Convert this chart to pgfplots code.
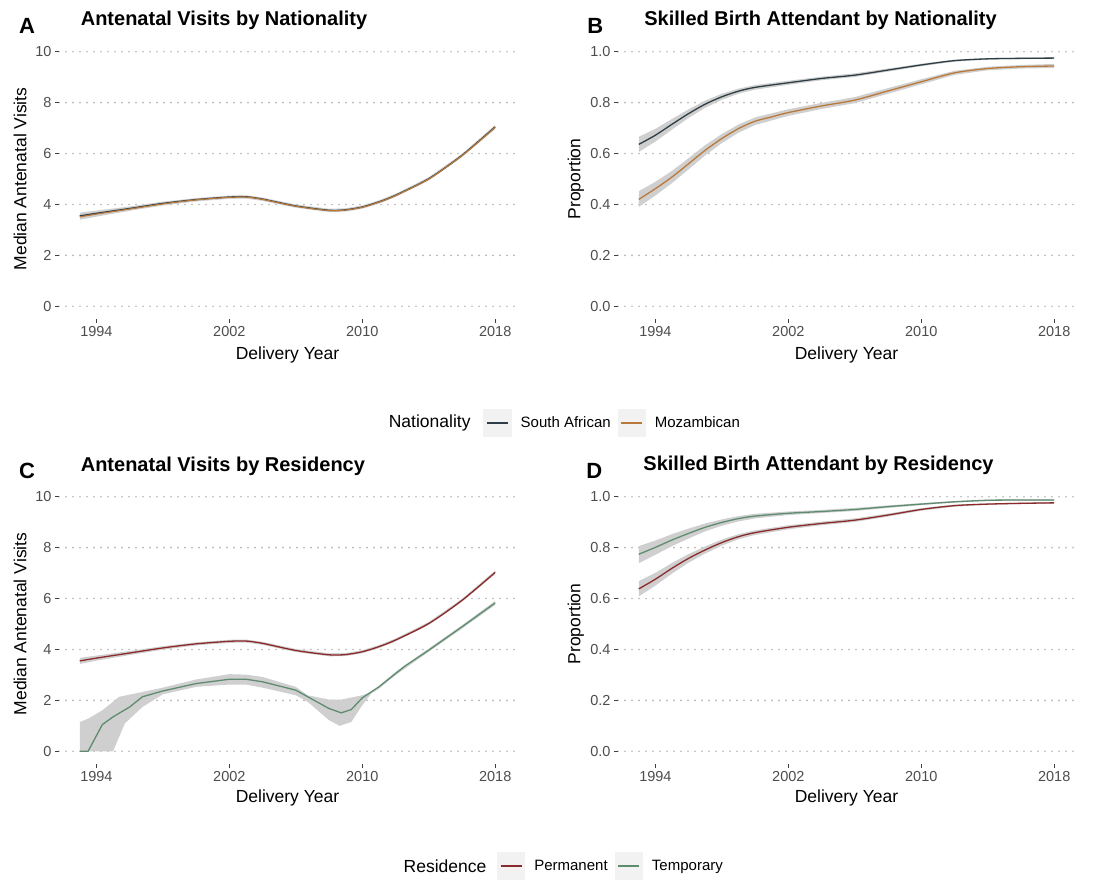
\documentclass[border=0pt]{standalone}
\usepackage{fontspec}
\setmainfont{Liberation Sans}
\usepackage{pgfplots}
\pgfplotsset{compat=1.18}
\usepackage{pgfplotstable}

\definecolor{saCol}{HTML}{2F3E46}
\definecolor{mzCol}{HTML}{B9793A}
\definecolor{pmCol}{HTML}{8B2A2A}
\definecolor{tpCol}{HTML}{5E8C6F}
\definecolor{bandgray}{HTML}{CFCFCF}
\definecolor{tickgray}{HTML}{4D4D4D}
\definecolor{gridgray}{HTML}{B4B4B4}
\definecolor{legbg}{HTML}{F2F2F2}

% Panel A: antenatal visits by nationality
\pgfplotstableread{
year y
1993 3.55
1994 3.65
1996 3.84
1998 4.04
2000 4.19
2002 4.29
2003 4.30
2004 4.21
2006 3.94
2008 3.77
2009 3.79
2010 3.90
2011 4.10
2012 4.36
2014 5.01
2016 5.93
2018 7.05
}\visSA
\pgfplotstableread{
year y
1993 3.51
1994 3.62
1996 3.82
1998 4.02
2000 4.18
2002 4.28
2003 4.29
2004 4.20
2006 3.93
2008 3.76
2009 3.78
2010 3.89
2011 4.09
2012 4.35
2014 5.00
2016 5.92
2018 7.03
}\visMZ
% Panel B: skilled birth attendant by nationality
\pgfplotstableread{
year y
1993 0.636
1994 0.672
1995 0.715
1996 0.757
1997 0.794
1998 0.823
1999 0.845
2000 0.860
2002 0.878
2004 0.895
2006 0.908
2008 0.928
2010 0.948
2012 0.965
2014 0.972
2016 0.974
2018 0.975
}\sbaSA
\pgfplotstableread{
year y
1993 0.420
1994 0.462
1995 0.508
1996 0.560
1997 0.613
1998 0.659
1999 0.698
2000 0.727
2001 0.744
2002 0.761
2004 0.787
2006 0.810
2008 0.846
2010 0.882
2012 0.917
2014 0.934
2016 0.941
2018 0.944
}\sbaMZ
% Panel C: antenatal visits by residency
\pgfplotstableread{
year y
1993 3.55
1994 3.66
1996 3.86
1998 4.06
2000 4.22
2002 4.32
2003 4.33
2004 4.24
2006 3.96
2008 3.79
2009 3.80
2010 3.91
2011 4.11
2012 4.37
2014 5.02
2016 5.93
2018 7.03
}\visPM
\pgfplotstableread{
year y
1993.00 0.00
1993.50 0.00
1994.36 1.05
1995.00 1.35
1996.00 1.74
1996.77 2.14
1998.00 2.37
2000.00 2.66
2002.00 2.83
2003.00 2.83
2004.00 2.73
2006.00 2.40
2006.72 2.14
2008.00 1.68
2008.73 1.51
2009.34 1.64
2010.00 2.10
2011.00 2.53
2012.00 3.05
2012.55 3.34
2014.00 3.97
2016.00 4.89
2018.00 5.83
}\visTP
% Panel D: skilled birth attendant by residency
\pgfplotstableread{
year y
1993 0.774
1994 0.801
1995 0.830
1996 0.856
1997 0.880
1998 0.899
1999 0.914
2000 0.924
2002 0.935
2004 0.942
2006 0.950
2008 0.961
2010 0.971
2012 0.980
2014 0.986
2016 0.987
2018 0.987
}\sbaTP
\pgfplotstableread{
year y
1993 0.638
1994 0.676
1995 0.719
1996 0.758
1997 0.791
1998 0.820
1999 0.843
2000 0.859
2002 0.880
2004 0.895
2006 0.908
2008 0.928
2010 0.950
2012 0.965
2014 0.971
2016 0.974
2018 0.976
}\sbaPM

\tikzset{letter/.style={anchor=base west, font=\fontsize{22}{26}\selectfont\bfseries},
  legtitle/.style={anchor=west, font=\fontsize{17.5}{21}\selectfont}}
\pgfplotsset{
  gg/.style={
    scale only axis, width=457pt, height=280pt,
    xmin=1991.75, xmax=2019.25,
    xtick={1994,2002,2010,2018},
    axis lines*=left, axis line style={draw=none},
    tick align=outside, major tick length=4pt,
    tick style={color=black!75, line width=0.9pt},
    ymajorgrids,
    grid style={gridgray, line width=1.8pt, line cap=round, dash pattern=on 0pt off 7pt},
    ticklabel style={font=\fontsize{14.5}{16}\selectfont, color=tickgray},
    /pgf/number format/assume math mode=true,
    /pgf/number format/1000 sep={},
    label style={font=\fontsize{17.5}{21}\selectfont},
    title style={font=\fontsize{20}{24}\selectfont\bfseries, anchor=base west},
    clip mode=individual,
    legend columns=-1,
    legend style={draw=none, fill=none, inner sep=0pt, anchor=west,
      font=\fontsize{15}{17}\selectfont, nodes={inner sep=0pt},
      /tikz/every odd column/.append style={column sep=9pt},
      /tikz/every even column/.append style={column sep=7pt}},
    legend image code/.code={
      \fill[legbg] (0pt,-13.5pt) rectangle (27pt,13.5pt);
      \draw[#1, line width=1.3pt] (3pt,0pt) -- (24pt,0pt);
    },
  },
  visits/.style={ymin=-0.5, ymax=10.5, ytick={0,2,4,6,8,10},
    ylabel={Median Antenatal Visits},
    ylabel style={at={(axis description cs:-0.0853,0.5)}, anchor=center}},
  prop/.style={ymin=-0.05, ymax=1.05, ytick={0,0.2,0.4,0.6,0.8,1.0},
    yticklabel style={/pgf/number format/.cd, fixed, fixed zerofill, precision=1},
    ylabel={Proportion},
    ylabel style={at={(axis description cs:-0.092,0.5)}, anchor=center}},
}

\begin{document}
\begin{tikzpicture}
\useasboundingbox (0,0) rectangle (1105pt,879pt);

% ---------- A ----------
\begin{axis}[gg, visits, at={(59pt,560pt)}, anchor=south west,
  title={Antenatal Visits by Nationality},
  title style={at={(axis description cs:0.040,1.028)}},
  xlabel={Delivery Year},
  xlabel style={at={(axis description cs:0.5,-0.13)}, anchor=center},
  legend style={at={(axis description cs:0.928,-0.371)}}]
\addplot[fill=bandgray, draw=none, forget plot] coordinates {
(1993,3.68)(1994,3.76)(1996,3.92)(1998,4.11)(2000,4.25)(2002,4.35)(2003,4.36)(2004,4.27)(2006,4.00)(2008,3.83)(2009,3.85)(2010,3.96)(2011,4.16)(2012,4.42)(2014,5.07)(2016,5.99)(2018,7.12)
(2018,6.96)(2016,5.86)(2014,4.94)(2012,4.29)(2011,4.03)(2010,3.83)(2009,3.72)(2008,3.70)(2006,3.87)(2004,4.14)(2003,4.23)(2002,4.22)(2000,4.12)(1998,3.96)(1996,3.75)(1994,3.52)(1993,3.40)};
\addplot[saCol, line width=1.4pt, smooth, tension=0.5] table[x=year,y=y] {\visSA};
\addlegendentry{South African}
\addplot[mzCol, line width=1.1pt, smooth, tension=0.5] table[x=year,y=y] {\visMZ};
\addlegendentry{Mozambican}
\node[letter] at (axis description cs:-0.095,1.018) {A};
\node[legtitle] at (axis description cs:0.714,-0.371) {Nationality};
\end{axis}

% ---------- B ----------
\begin{axis}[gg, prop, at={(618pt,560pt)}, anchor=south west,
  title={Skilled Birth Attendant by Nationality},
  title style={at={(axis description cs:0.050,1.028)}},
  xlabel={Delivery Year},
  xlabel style={at={(axis description cs:0.5,-0.13)}, anchor=center}]
\addplot[fill=bandgray, draw=none, forget plot] coordinates {
(1993,0.666)(1994,0.697)(1995,0.736)(1996,0.774)(1997,0.808)(1998,0.835)(1999,0.855)(2000,0.869)(2002,0.886)(2004,0.902)(2006,0.915)(2008,0.934)(2010,0.953)(2012,0.969)(2014,0.975)(2016,0.977)(2018,0.978)
(2018,0.972)(2016,0.971)(2014,0.969)(2012,0.961)(2010,0.943)(2008,0.922)(2006,0.901)(2004,0.888)(2002,0.870)(2000,0.851)(1999,0.835)(1998,0.811)(1997,0.780)(1996,0.740)(1995,0.694)(1994,0.647)(1993,0.606)};
\addplot[fill=bandgray, draw=none, forget plot] coordinates {
(1993,0.452)(1994,0.489)(1995,0.532)(1996,0.582)(1997,0.633)(1998,0.677)(1999,0.714)(2000,0.742)(2001,0.758)(2002,0.774)(2004,0.799)(2006,0.822)(2008,0.857)(2010,0.892)(2012,0.925)(2014,0.941)(2016,0.948)(2018,0.952)
(2018,0.936)(2016,0.934)(2014,0.927)(2012,0.909)(2010,0.872)(2008,0.835)(2006,0.798)(2004,0.775)(2002,0.748)(2001,0.730)(2000,0.712)(1999,0.682)(1998,0.641)(1997,0.593)(1996,0.538)(1995,0.484)(1994,0.435)(1993,0.390)};
\addplot[saCol, line width=1.3pt, smooth, tension=0.5, forget plot] table[x=year,y=y] {\sbaSA};
\addplot[mzCol, line width=1.3pt, smooth, tension=0.5, forget plot] table[x=year,y=y] {\sbaMZ};
\node[letter] at (axis description cs:-0.075,1.018) {B};
\end{axis}

% ---------- C ----------
\begin{axis}[gg, visits, at={(59pt,115pt)}, anchor=south west,
  title={Antenatal Visits by Residency},
  title style={at={(axis description cs:0.040,1.022)}},
  xlabel={Delivery Year},
  xlabel style={at={(axis description cs:0.5,-0.123)}, anchor=center},
  legend style={at={(axis description cs:0.958,-0.364)}}]
\addplot[fill=bandgray, draw=none, forget plot] coordinates {
(1993,3.67)(1994,3.76)(1996,3.94)(1998,4.13)(2000,4.28)(2002,4.38)(2003,4.39)(2004,4.30)(2006,4.02)(2008,3.85)(2009,3.86)(2010,3.97)(2011,4.17)(2012,4.43)(2014,5.08)(2016,5.99)(2018,7.10)
(2018,6.96)(2016,5.87)(2014,4.96)(2012,4.31)(2011,4.05)(2010,3.85)(2009,3.74)(2008,3.73)(2006,3.90)(2004,4.18)(2003,4.27)(2002,4.26)(2000,4.16)(1998,3.99)(1996,3.78)(1994,3.56)(1993,3.43)};
\addplot[fill=bandgray, draw=none, forget plot] coordinates {
(1993.00,1.15)(1993.50,1.28)(1994.36,1.61)(1995.37,2.14)(1996.77,2.33)(1998.00,2.50)(2000.00,2.82)(2002.00,3.03)(2003.00,3.01)(2004.00,2.92)(2006.00,2.53)(2006.72,2.20)(2008.00,2.03)(2008.73,2.03)(2010.00,2.20)(2010.54,2.33)(2011.00,2.57)(2012.00,3.12)(2014.00,4.04)(2016.00,4.95)(2018.00,5.91)
(2018.00,5.75)(2016.00,4.82)(2014.00,3.91)(2012.00,2.99)(2011.00,2.46)(2010.54,2.27)(2010.00,1.81)(2009.34,1.15)(2008.63,1.00)(2008.00,1.22)(2006.72,1.94)(2006.00,2.20)(2004.00,2.50)(2003.00,2.62)(2002.00,2.62)(2000.00,2.53)(1998.00,2.24)(1996.77,1.74)(1995.71,1.09)(1995.00,0.00)(1993.00,0.00)};
\addplot[pmCol, line width=1.3pt, smooth, tension=0.5] table[x=year,y=y] {\visPM};
\addlegendentry{Permanent}
\addplot[tpCol, line width=1.3pt] table[x=year,y=y] {\visTP};
\addlegendentry{Temporary}
\node[letter] at (axis description cs:-0.095,1.018) {C};
\node[legtitle] at (axis description cs:0.7465,-0.364) {Residence};
\end{axis}

% ---------- D ----------
\begin{axis}[gg, prop, at={(618pt,115pt)}, anchor=south west,
  title={Skilled Birth Attendant by Residency},
  title style={at={(axis description cs:0.048,1.028)}},
  xlabel={Delivery Year},
  xlabel style={at={(axis description cs:0.5,-0.123)}, anchor=center}]
\addplot[fill=bandgray, draw=none, forget plot] coordinates {
(1993,0.806)(1994,0.828)(1995,0.853)(1996,0.875)(1997,0.895)(1998,0.911)(1999,0.924)(2000,0.933)(2002,0.942)(2004,0.948)(2006,0.956)(2008,0.966)(2010,0.975)(2012,0.983)(2014,0.989)(2016,0.990)(2018,0.990)
(2018,0.984)(2016,0.984)(2014,0.983)(2012,0.977)(2010,0.967)(2008,0.956)(2006,0.944)(2004,0.936)(2002,0.928)(2000,0.915)(1999,0.903)(1998,0.886)(1997,0.864)(1996,0.836)(1995,0.806)(1994,0.772)(1993,0.739)};
\addplot[fill=bandgray, draw=none, forget plot] coordinates {
(1993,0.668)(1994,0.701)(1995,0.740)(1996,0.775)(1997,0.805)(1998,0.832)(1999,0.853)(2000,0.868)(2002,0.888)(2004,0.902)(2006,0.915)(2008,0.934)(2010,0.955)(2012,0.969)(2014,0.974)(2016,0.977)(2018,0.979)
(2018,0.973)(2016,0.971)(2014,0.968)(2012,0.961)(2010,0.945)(2008,0.922)(2006,0.901)(2004,0.888)(2002,0.872)(2000,0.850)(1999,0.833)(1998,0.808)(1997,0.777)(1996,0.741)(1995,0.698)(1994,0.651)(1993,0.608)};
\addplot[tpCol, line width=1.3pt, smooth, tension=0.5, forget plot] table[x=year,y=y] {\sbaTP};
\addplot[pmCol, line width=1.3pt, smooth, tension=0.5, forget plot] table[x=year,y=y] {\sbaPM};
\node[letter] at (axis description cs:-0.077,1.018) {D};
\end{axis}
\end{tikzpicture}
\end{document}
